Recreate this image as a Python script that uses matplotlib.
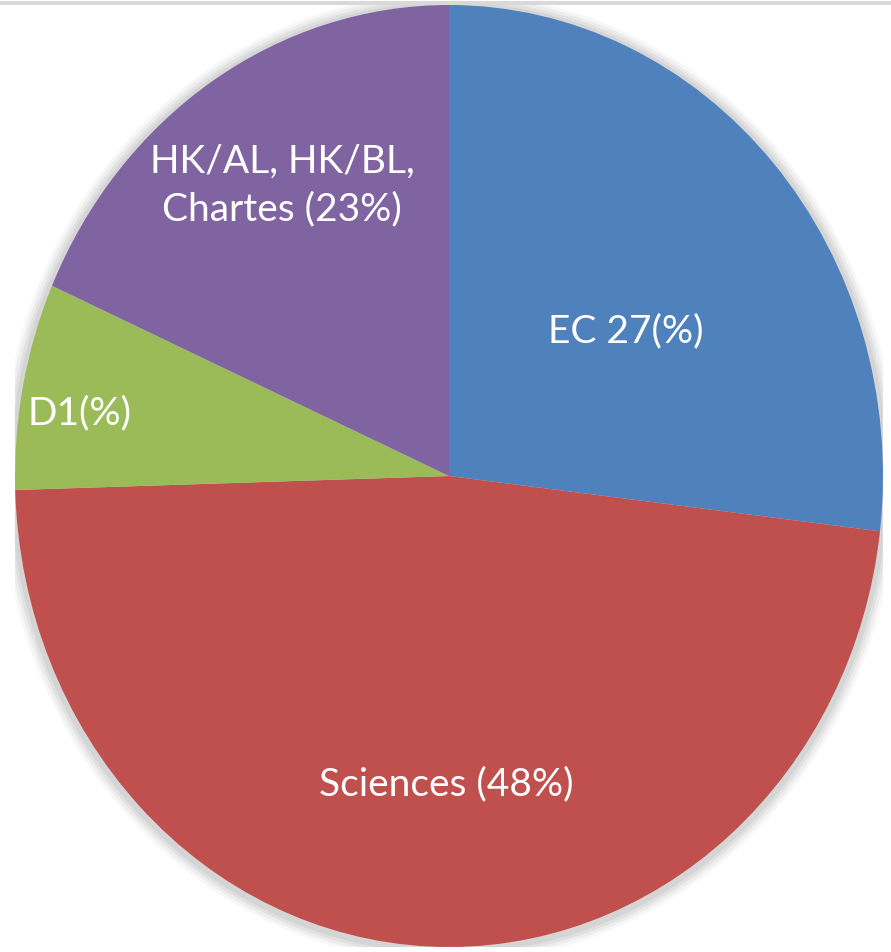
import matplotlib.pyplot as plt
from matplotlib.patches import Ellipse, Rectangle

labels = ['EC 27(%)', 'Sciences (48%)', 'D1(%)', 'HK/AL, HK/BL,\nChartes (23%)']
shares = [26.9, 47.7, 7.1, 18.4]
colors = ['#4F81BD', '#C0504D', '#9BBB59', '#8064A2']
# label positions (axes data coords, pie radius = 1)
label_xy = [(0.407, 0.309), (-0.007, -0.652), (-0.851, 0.135), (-0.385, 0.618)]

fig = plt.figure(figsize=(8.91, 9.53), dpi=100)
W, H = 891, 953
cx, cy, rx, ry = 449, 477, 434, 471
ax = fig.add_axes([(cx - rx) / W, (H - cy - ry) / H, 2 * rx / W, 2 * ry / H])

# soft shadow around the pie
for i, a in enumerate([0.06, 0.08, 0.10, 0.12]):
    grow = 0.032 - i * 0.007
    ax.add_patch(Ellipse((0, -0.004), 2 + 2 * grow, 2 + 2 * grow * rx / ry,
                         facecolor='#808080', edgecolor='none', alpha=a, zorder=0))

ax.pie(shares, colors=colors, startangle=90, counterclock=False,
       wedgeprops=dict(linewidth=0, antialiased=True))

for lab, (x, y) in zip(labels, label_xy):
    ax.text(x, y, lab, color='white', fontsize=28, family=['Lato', 'DejaVu Sans'],
            ha='center', va='center', linespacing=1.4, zorder=5)

ax.set_aspect('auto')
ax.set_xlim(-1, 1)
ax.set_ylim(-1, 1)
ax.axis('off')

# thin grey frame line at the top
fig.add_artist(Rectangle((0, 1 - 6 / H), 1, 4 / H, transform=fig.transFigure,
                         facecolor='#d9d9d9', edgecolor='none', zorder=10))

fig.savefig('out.png', dpi=100)
